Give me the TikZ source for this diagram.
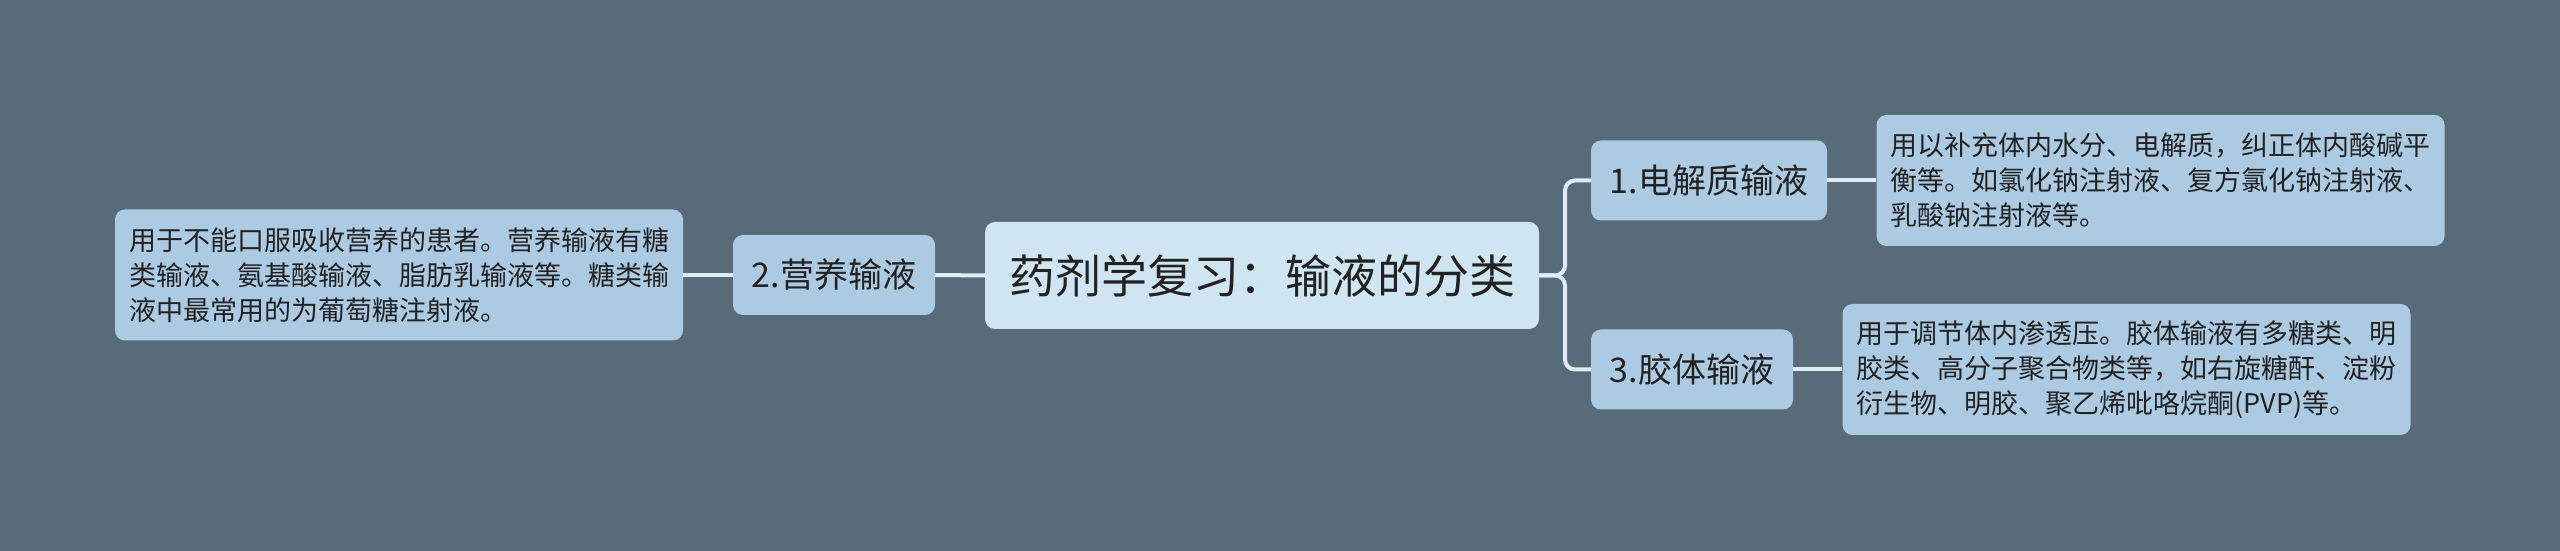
\documentclass[tikz,border=0pt]{standalone}
\usepackage{fontspec}
\setmainfont{Noto Sans CJK SC}
\definecolor{canvas}{RGB}{87,107,121}
\definecolor{rootfill}{RGB}{207,229,241}
\definecolor{boxfill}{RGB}{172,202,226}
\definecolor{linkline}{RGB}{222,237,246}
\definecolor{ink}{RGB}{34,34,34}
\tikzset{
  topic/.style={draw=none, fill=rootfill, rounded corners=10pt, inner sep=0pt,
    text=ink, font=\fontsize{46}{52}\selectfont, minimum width=554pt, minimum height=107pt},
  branch/.style={draw=none, fill=boxfill, rounded corners=10pt, inner sep=0pt,
    text=ink, font=\fontsize{34}{40}\selectfont, minimum height=80pt},
  note/.style={draw=none, fill=boxfill, rounded corners=10pt, inner xsep=14pt, inner ysep=0pt,
    text=ink, font=\fontsize{27}{35}\selectfont, align=left, text width=540pt, minimum height=131pt},
  link/.style={draw=linkline, line width=4pt, rounded corners=10pt}
}
\begin{document}
\begin{tikzpicture}[x=1pt,y=1pt]
  % Canvas, same size as the reference
  \fill[canvas] (0,0) rectangle (2560,551);
  \useasboundingbox (0,0) rectangle (2560,551);

  % Central topic and its branches
  \node[topic] (root) at (1262,275.5) {药剂学复习：输液的分类};
  \node[branch, minimum width=202pt] (nutrition) at (834,276) {2.营养输液};
  \node[branch, minimum width=236pt] (electrolyte) at (1709,370.5) {1.电解质输液};
  \node[branch, minimum width=202pt] (colloid) at (1692,181.5) {3.胶体输液};

  % Notes on each branch
  \node[note] (nutritionnote) at (399,276) {用于不能口服吸收营养的患者。营养输液有糖\\类输液、氨基酸输液、脂肪乳输液等。糖类输\\液中最常用的为葡萄糖注射液。};
  \node[note] (electrolytenote) at (2160.5,370.5) {用以补充体内水分、电解质，纠正体内酸碱平\\衡等。如氯化钠注射液、复方氯化钠注射液、\\乳酸钠注射液等。};
  \node[note] (colloidnote) at (2126.5,181.5) {用于调节体内渗透压。胶体输液有多糖类、明\\胶类、高分子聚合物类等，如右旋糖酐、淀粉\\衍生物、明胶、聚乙烯吡咯烷酮(PVP)等。};

  % Connectors
  \coordinate (fork) at (1565,275.5);
  \draw[link] (root.west) -- (nutrition.east);
  \draw[link] (nutrition.west) -- (nutritionnote.east);
  \draw[link] (root.east) -- (fork) |- (electrolyte.west);
  \draw[link] (root.east) -- (fork) |- (colloid.west);
  \draw[link] (electrolyte.east) -- (electrolytenote.west);
  \draw[link] (colloid.east) -- (colloidnote.west);
\end{tikzpicture}
\end{document}
